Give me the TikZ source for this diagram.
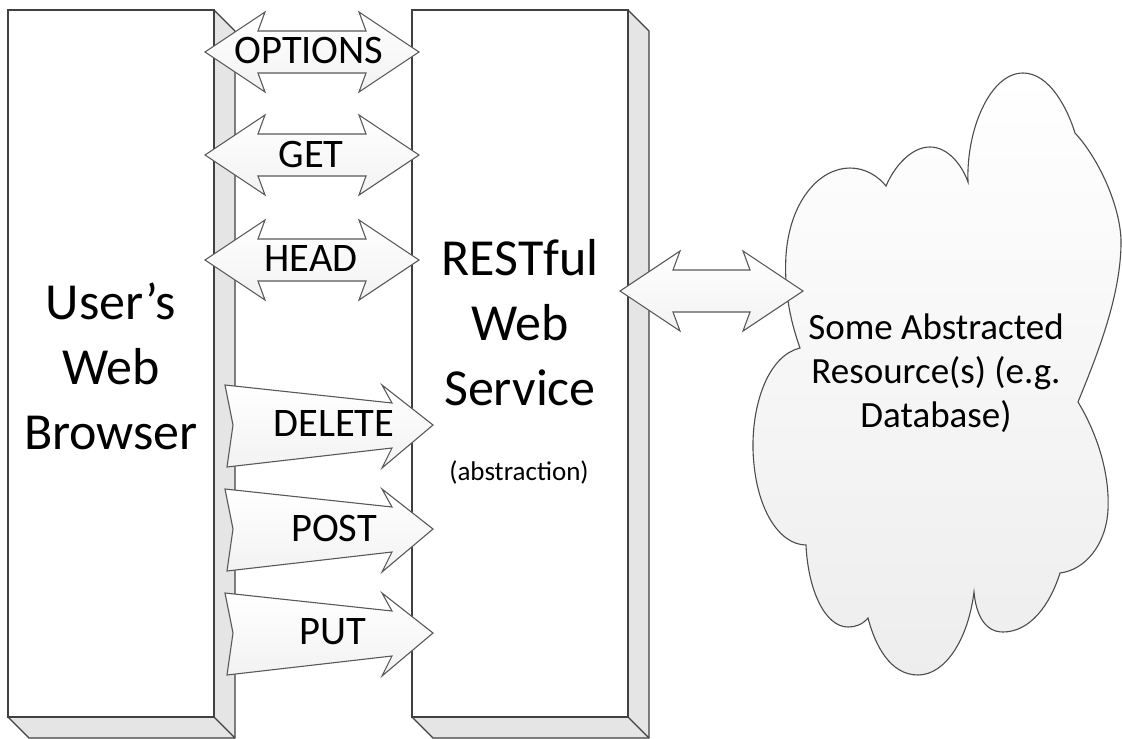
\documentclass[tikz,border=0pt]{standalone}
\usepackage{fontspec}
\setmainfont{Carlito}
\usepackage{tikz}
\usetikzlibrary{calc}

% extruded box: left, top, right, bottom of the front face
\newcommand{\SolidBox}[4]{%
  \filldraw[BoxSide] (#1,#2) -- (#3,#2) -- (#3+21,#2+21) -- (#3+21,#4+21)
    -- (#1+21,#4+21) -- (#1,#4) -- cycle;
  \draw[BoxSide] (#3,#4) -- (#3+21,#4+21);
  \filldraw[BoxFront] (#1,#2) rectangle (#3,#4);
}

% two-headed block arrow: centre x, centre y, half length
\newcommand{\TwoWay}[3]{%
  \pgfmathsetmacro{\Shaft}{2*#3-106}
  \draw[BlockArrow] (#1-#3,#2) -- ++(60,-40) -- ++(-7,19) -- ++(\Shaft,0)
    -- ++(-7,-19) -- ++(60,40) -- ++(-60,40) -- ++(7,-19) -- ++(-\Shaft,0)
    -- ++(7,19) -- cycle;
}

% notched one-way arrow pointing right: y of its tip
\newcommand{\OneWay}[1]{%
  \draw[BlockArrow] (225,#1-40) -- (392,#1-22) -- (382,#1-40) -- (433,#1)
    -- (382,#1+43) -- (392,#1+23) -- (227,#1+42) -- (233,#1) -- cycle;
}

\begin{document}
\begin{tikzpicture}[
x=1pt, y=-1pt,
BoxFront/.style={draw=black!75,fill=white,line width=1.3pt},
BoxSide/.style={draw=black!75,fill=black!10,line width=1.3pt,line join=round},
BlockArrow/.style={draw=black!65,line width=1.1pt,top color=white,bottom color=black!5},
CloudShape/.style={draw=black!70,line width=1.1pt,top color=white,bottom color=black!7},
BigText/.style={font={\fontsize{52}{65}\selectfont},align=center,inner sep=0pt},
ArrowText/.style={font={\fontsize{40.5}{48}\selectfont},inner sep=0pt},
NoteText/.style={font={\fontsize{27}{32}\selectfont},inner sep=0pt},
CloudText/.style={font={\fontsize{37}{44}\selectfont},align=center,inner sep=0pt}
]
\useasboundingbox (0,0) rectangle (1122,739);

% browser and service
\SolidBox{8}{10}{214}{717}
\SolidBox{412}{10}{628}{717}

% the resource cloud, lobe by lobe clockwise
\draw[CloudShape] (800,348)
  .. controls (790,320) and (784,290) .. (786,255)
  .. controls (790,200) and (820,168) .. (850,168)
  .. controls (865,168) and (878,176) .. (886,186)
  .. controls (895,165) and (912,147) .. (930,147)
  .. controls (948,147) and (962,165) .. (968,182)
  .. controls (966,130) and (990,73) .. (1023,73)
  .. controls (1050,73) and (1068,110) .. (1075,133)
  .. controls (1100,160) and (1122,210) .. (1121,245)
  .. controls (1120,300) and (1095,360) .. (1078,402)
  .. controls (1095,430) and (1110,470) .. (1108,510)
  .. controls (1106,545) and (1085,570) .. (1060,573)
  .. controls (1050,605) and (1030,632) .. (1003,632)
  .. controls (985,632) and (976,615) .. (974,592)
  .. controls (968,640) and (945,675) .. (918,675)
  .. controls (890,675) and (875,645) .. (868,618)
  .. controls (862,625) and (855,627) .. (848,627)
  .. controls (825,627) and (808,590) .. (806,545)
  .. controls (780,545) and (755,510) .. (753,450)
  .. controls (752,400) and (770,355) .. cycle;

% request arrows
\TwoWay{312}{52}{107}
\TwoWay{312}{155}{107}
\TwoWay{312}{260}{107}
\OneWay{425}
\OneWay{529}
\OneWay{633}
\TwoWay{711.5}{291}{91.5}

\node[BigText] (browser) at (111,366) {User’s\\Web\\Browser};
\node[BigText] (service) at (520,323) {RESTful\\Web\\Service};
\node[NoteText] (abstr) at (519,472) {(abstraction)};

\node[ArrowText] (options) at (309,50) {OPTIONS};
\node[ArrowText] (get) at (311,154) {GET};
\node[ArrowText] (head) at (311,259) {HEAD};
\node[ArrowText] (delete) at (334,424) {DELETE};
\node[ArrowText] (post) at (334,528) {POST};
\node[ArrowText] (put) at (333,632) {PUT};

\node[CloudText] (store) at (936,373) {Some Abstracted\\Resource(s) (e.g.\\Database)};
\end{tikzpicture}
\end{document}
